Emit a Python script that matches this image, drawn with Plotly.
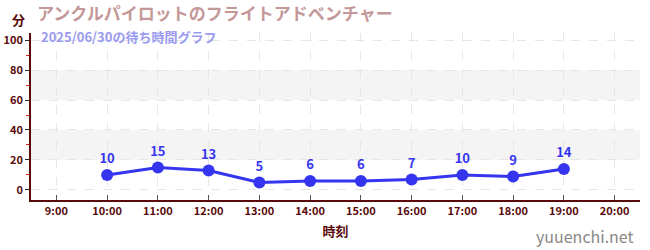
import plotly.graph_objects as go

hours = [10, 11, 12, 13, 14, 15, 16, 17, 18, 19]
waits = [10, 15, 13, 5, 6, 6, 7, 10, 9, 14]
tick_vals = [9, 10, 11, 12, 13, 14, 15, 16, 17, 18, 19, 20]
tick_text = ["9:00", "10:00", "11:00", "12:00", "13:00", "14:00", "15:00",
             "16:00", "17:00", "18:00", "19:00", "20:00"]
title = "アンクルパイロットのフライトアドベンチャー"
subtitle = "2025/06/30の待ち時間グラフ"

FONT = "Noto Sans CJK JP"
DARK = "#5a0a0a"
BLUE = "#3535f0"

fig = go.Figure()
fig.add_trace(go.Scatter(
    x=hours, y=waits, mode="lines+markers+text",
    text=[str(v) for v in waits], textposition="top center",
    textfont=dict(family=FONT, size=13, color=BLUE, weight="bold"),
    line=dict(color=BLUE, width=3),
    marker=dict(color=BLUE, size=12),
    cliponaxis=False, showlegend=False,
))

for y0, y1 in [(20, 40), (60, 80)]:
    fig.add_shape(type="rect", xref="paper", x0=0, x1=1, yref="y", y0=y0, y1=y1,
                  fillcolor="#f4f4f4", line=dict(width=0), layer="below")

fig.update_layout(
    width=650, height=250,
    margin=dict(l=31, r=10, t=33, b=50, autoexpand=False),
    paper_bgcolor="white", plot_bgcolor="white",
    font=dict(family=FONT, color=DARK),
    xaxis=dict(
        range=[8.5, 20.5], tickvals=tick_vals, ticktext=tick_text,
        tickfont=dict(size=11, color=DARK, weight="bold"),
        showgrid=True, gridcolor="#e6e6e6", griddash="dash", gridwidth=1,
        showline=True, linecolor=DARK, linewidth=1.5,
        ticks="inside", ticklen=5, tickcolor="#555555",
        zeroline=False, automargin=False,
        title=dict(text="時刻", font=dict(size=13, color=DARK, weight="bold"), standoff=10),
    ),
    yaxis=dict(
        range=[-6.7, 104.7], tickvals=[0, 20, 40, 60, 80, 100],
        tickfont=dict(size=11, color=DARK, weight="bold"),
        showgrid=True, gridcolor="#e6e6e6", griddash="dash", gridwidth=1,
        showline=True, linecolor=DARK, linewidth=1.5,
        ticks="outside", ticklen=4, tickcolor="#222222",
        minor=dict(tickvals=[10, 30, 50, 70, 90], ticks="outside", ticklen=3,
                   tickcolor="#e02020", showgrid=False),
        zeroline=False, automargin=False,
    ),
    annotations=[
        dict(text=title, xref="paper", yref="paper", x=0.0, y=1.0, xanchor="left", yanchor="bottom",
             xshift=4, yshift=6, showarrow=False,
             font=dict(size=17, color="#c49898", family=FONT, weight="bold")),
        dict(text=subtitle, xref="paper", yref="paper", x=0.0, y=1.0, xanchor="left", yanchor="top",
             xshift=8, yshift=8, showarrow=False,
             font=dict(size=13, color="#9a9af0", family=FONT, weight="bold")),
        dict(text="分", xref="paper", yref="paper", x=0, y=1.0, xanchor="right", yanchor="bottom",
             xshift=-4, yshift=2, showarrow=False,
             font=dict(size=13, color=DARK, family=FONT, weight="bold")),
        dict(text="yuuenchi.net", xref="paper", yref="paper", x=1.0, y=0, xanchor="right", yanchor="top",
             xshift=-4, yshift=-22, showarrow=False,
             font=dict(size=16, color="#888888", family=FONT)),
    ],
)

fig.write_html("out.html")
